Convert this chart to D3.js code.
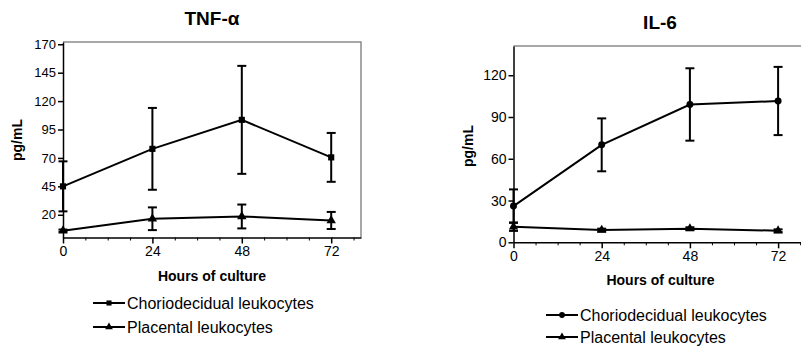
<!DOCTYPE html>
<html>
<head>
<meta charset="utf-8">
<script src="https://cdn.jsdelivr.net/npm/d3@7"></script>
<style>
  body { margin: 0; background: #fff; }
  svg { display: block; font-family: "Liberation Sans", Arial, sans-serif; }
</style>
</head>
<body>
<svg id="chart" width="801" height="346"></svg>
<script>
// hours of culture
var hours = [0, 24, 48, 72];
var majorTicks = [0, 24, 48, 72];
var minorTicks = [6, 12, 18, 30, 36, 42, 54, 60, 66, 78];
var seriesNames = ["Choriodecidual leukocytes", "Placental leukocytes"];

// TNF-alpha (pg/mL), mean and SEM
var tnfChorioMean = [45, 78, 103.5, 70.5];
var tnfChorioErr = [22, 36, 47.5, 21.5];
var tnfPlacMean = [6, 16.5, 18.5, 15];
var tnfPlacErr = [1, 10, 10.5, 7.5];
var tnfTicks = [20, 45, 70, 95, 120, 145, 170];

// IL-6 (pg/mL)
var il6ChorioMean = [26, 70, 99, 101.5];
var il6ChorioErr = [12, 19, 26, 24.5];
var il6PlacMean = [11.2, 8.8, 9.8, 8.3];
var il6PlacErr = [3, 1, 1, 1];
var il6Ticks = [0, 30, 60, 90, 120];

var svg = d3.select("#chart");

function drawPanel(p) {
    var x = d3.scaleLinear().domain([0, 80]).range([p.x0, p.x1]);
    var y = d3.scaleLinear().domain([0, p.ymax]).range([p.y0, p.y1]);
    var g = svg.append("g").attr("class", "panel");

    // gray frame (top + right)
    g.append("path")
        .attr("d", "M" + p.x0 + "," + p.y1 + "H" + p.x1 + "V" + p.y0)
        .attr("fill", "none").attr("stroke", "#8a8a8a").attr("stroke-width", 1.5);

    // x axis
    var xa = g.append("g").attr("transform", "translate(0," + p.y0 + ")")
        .call(d3.axisBottom(x).tickValues(majorTicks).tickSize(6).tickPadding(3).tickSizeOuter(0));
    xa.select(".domain").attr("stroke-width", 1.5);
    xa.selectAll(".tick line").attr("stroke-width", 1.5);
    xa.selectAll("text").attr("font-size", 14).attr("font-family", "Liberation Sans");
    g.append("g").attr("transform", "translate(0," + p.y0 + ")")
        .call(d3.axisBottom(x).tickValues(minorTicks).tickSize(3).tickFormat("").tickSizeOuter(0))
        .select(".domain").remove();

    // y axis
    var ya = g.append("g").attr("transform", "translate(" + p.x0 + ",0)")
        .call(d3.axisLeft(y).tickValues(p.ticks).tickSize(5).tickPadding(2).tickSizeOuter(0));
    ya.select(".domain").attr("stroke-width", 1.5);
    ya.selectAll(".tick line").attr("stroke-width", 1.5);
    ya.selectAll("text").attr("font-size", p.tickFont).attr("font-family", "Liberation Sans");

    // titles
    g.append("text").attr("x", p.titleX).attr("y", p.titleY)
        .attr("text-anchor", "middle").attr("font-weight", "bold").attr("font-size", 19)
        .text(p.title);
    g.append("text").attr("x", (p.x0 + p.x1) / 2).attr("y", p.xlabY)
        .attr("text-anchor", "middle").attr("font-weight", "bold").attr("font-size", 14)
        .text("Hours of culture");
    g.append("text")
        .attr("transform", "translate(" + p.ylabX + "," + p.ylabY + ") rotate(-90)")
        .attr("text-anchor", "middle").attr("font-weight", "bold").attr("font-size", 14)
        .text("pg/mL");

    var series = [
        { mean: p.chorioMean, err: p.chorioErr, shape: p.chorioShape },
        { mean: p.placMean, err: p.placErr, shape: d3.symbolTriangle }
    ];
    var line = d3.line().x(function (d) { return x(d[0]); }).y(function (d) { return y(d[1]); });

    series.forEach(function (s) {
        var pts = hours.map(function (h, i) { return [h, s.mean[i], s.err[i]]; });
        g.append("path").datum(pts).attr("d", line)
            .attr("fill", "none").attr("stroke", "#000").attr("stroke-width", 2);
        var eb = g.selectAll(null).data(pts).enter().append("g");
        eb.append("line")
            .attr("x1", function (d) { return x(d[0]); }).attr("x2", function (d) { return x(d[0]); })
            .attr("y1", function (d) { return y(d[1] + d[2]); }).attr("y2", function (d) { return y(Math.max(0, d[1] - d[2])); })
            .attr("stroke", "#000").attr("stroke-width", 2);
        [1, -1].forEach(function (sg) {
            eb.append("line")
                .attr("x1", function (d) { return x(d[0]) - 4.5; }).attr("x2", function (d) { return x(d[0]) + 4.5; })
                .attr("y1", function (d) { return y(Math.max(0, d[1] + sg * d[2])); })
                .attr("y2", function (d) { return y(Math.max(0, d[1] + sg * d[2])); })
                .attr("stroke", "#000").attr("stroke-width", 2);
        });
        g.selectAll(null).data(pts).enter().append("path")
            .attr("transform", function (d) { return "translate(" + x(d[0]) + "," + y(d[1]) + ")"; })
            .attr("d", d3.symbol().type(s.shape).size(38))
            .attr("fill", "#000");
    });

    // legend
    var shapes = [p.chorioShape, d3.symbolTriangle];
    seriesNames.forEach(function (name, i) {
        var ly = p.legY[i];
        g.append("line").attr("x1", p.legX).attr("x2", p.legX + 32)
            .attr("y1", ly).attr("y2", ly).attr("stroke", "#000").attr("stroke-width", 2);
        g.append("path").attr("transform", "translate(" + (p.legX + 16) + "," + ly + ")")
            .attr("d", d3.symbol().type(shapes[i]).size(26)).attr("fill", "#000");
        g.append("text").attr("x", p.legX + 34).attr("y", ly + 5.5)
            .attr("font-size", 16).text(name);
    });
}

drawPanel({
    title: "TNF-\u03b1", titleX: 212, titleY: 25,
    x0: 63, x1: 361, y0: 237.5, y1: 42, ymax: 172,
    ticks: tnfTicks, tickFont: 13,
    chorioMean: tnfChorioMean, chorioErr: tnfChorioErr,
    placMean: tnfPlacMean, placErr: tnfPlacErr,
    chorioShape: d3.symbolSquare,
    xlabY: 281, ylabX: 22, ylabY: 140,
    legX: 93, legY: [303, 327]
});

drawPanel({
    title: "IL-6", titleX: 660, titleY: 29,
    x0: 513.5, x1: 807.5, y0: 242.3, y1: 46, ymax: 141,
    ticks: il6Ticks, tickFont: 14,
    chorioMean: il6ChorioMean, chorioErr: il6ChorioErr,
    placMean: il6PlacMean, placErr: il6PlacErr,
    chorioShape: d3.symbolCircle,
    xlabY: 285, ylabX: 473, ylabY: 146,
    legX: 546, legY: [315, 337]
});
</script>
</body>
</html>
